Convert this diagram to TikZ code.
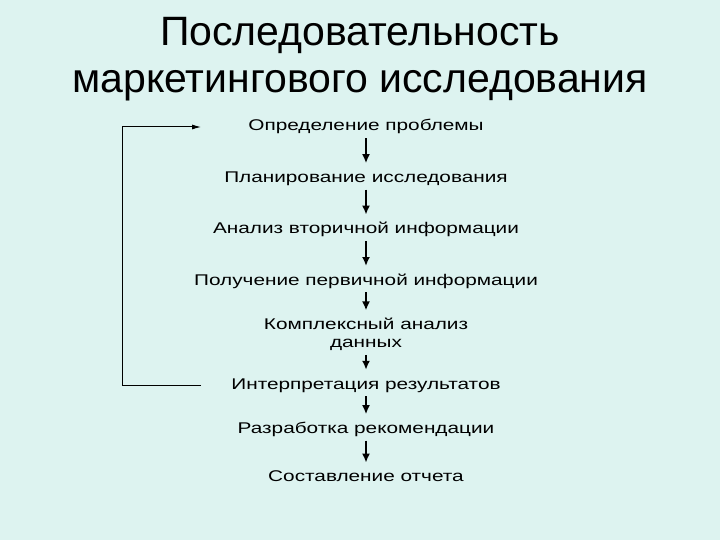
\documentclass[tikz,border=0pt]{standalone}
\usepackage{fontspec}
\setmainfont{Liberation Sans}
\newfontfamily\stepfont[FakeStretch=1.34]{Liberation Sans}
\usetikzlibrary{arrows,arrows.meta,positioning,calc}
\definecolor{slidebg}{RGB}{221,243,240}

\begin{document}
\begin{tikzpicture}[
    x=1pt, y=-1pt,
    node distance=33pt,
    stage/.style={align=center, font=\stepfont\fontsize{15.5}{18}\selectfont, text height=11pt, text depth=3pt, inner sep=2pt},
    flow/.style={-{Latex[length=9pt,width=8pt]}, line width=1.8pt, shorten <=2pt, shorten >=6pt},
    loop/.style={-{Latex[length=9pt,width=5pt]}, line width=1pt}
]
\fill[slidebg] (0,0) rectangle (720,540);
\useasboundingbox (0,0) rectangle (720,540);

\node[align=center, anchor=base, font=\fontsize{41}{47}\selectfont] (title) at (360,93) {Последовательность\\маркетингового исследования};

\node[stage] (s1) at (366,127) {Определение проблемы};
\node[stage, below=of s1] (s2) {Планирование исследования};
\node[stage, below=of s2] (s3) {Анализ вторичной информации};
\node[stage, below=of s3] (s4) {Получение первичной информации};
\node[stage, text height=29pt, below=26pt of s4] (s5) {Комплексный анализ\\данных};
\node[stage, below=23pt of s5] (s6) {Интерпретация результатов};
\node[stage, below=26pt of s6] (s7) {Разработка рекомендации};
\node[stage, below=30pt of s7] (s8) {Составление отчета};

\draw[flow] (s1) -- (s2);
\draw[flow] (s2) -- (s3);
\draw[flow] (s3) -- (s4);
\draw[flow] (s4) -- (s5);
\draw[flow] (s5) -- (s6);
\draw[flow] (s6) -- (s7);
\draw[flow] (s7) -- (s8);

% feedback loop
\coordinate (back) at (122,0);
\coordinate (tail) at (201,0);
\draw[loop] (tail |- s6.west) -- (back |- s6.west) -- (back |- s1.west) -- (tail |- s1.west);

\end{tikzpicture}
\end{document}
